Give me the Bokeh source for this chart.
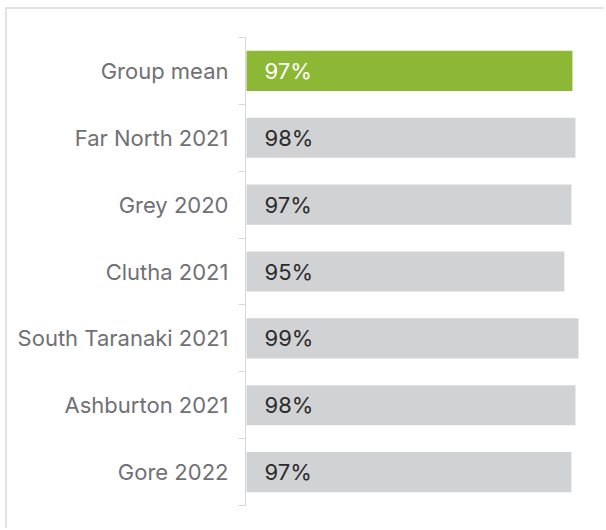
from bokeh.plotting import figure
from bokeh.models import ColumnDataSource, FixedTicker
from bokeh.embed import file_html
from bokeh.resources import INLINE
from bokeh.core.properties import value

categories = ["Group mean", "Far North 2021", "Grey 2020", "Clutha 2021",
              "South Taranaki 2021", "Ashburton 2021", "Gore 2022"]
values = [97.0, 97.9, 96.7, 94.6, 98.8, 97.9, 96.7]
value_labels = ["97%", "98%", "97%", "95%", "99%", "98%", "97%"]

n = len(categories)
ypos = [n - i - 0.5 for i in range(n)]
bar_colors = ["#8db836"] + ["#d1d2d4"] * (n - 1)
text_colors = ["#ffffff"] + ["#2b2b2b"] * (n - 1)

src = ColumnDataSource(dict(y=ypos, v=values, lab=value_labels,
                            bc=bar_colors, tc=text_colors))

W, H = 599, 521
p = figure(width=W, height=H, x_range=(-0.3, 100), y_range=(0, n),
           output_backend="svg", toolbar_location=None,
           min_border_left=238, min_border_right=24,
           min_border_top=28, min_border_bottom=25)
p.styles = {"margin-left": "5px", "margin-top": "7px",
            "border-top": "2px solid #e3e3e3",
            "border-left": "2px solid #e3e3e3"}
p.background_fill_color = "white"
p.border_fill_color = "white"
p.outline_line_color = None
p.xaxis.visible = False
p.xgrid.visible = False
p.ygrid.visible = False

p.hbar(y="y", left=0, right="v", height=0.6, source=src,
       fill_color="bc", line_color=None)
p.text(x=0, y="y", text="lab", source=src, x_offset=18,
       text_baseline="middle", text_align="left",
       text_font=value("Inter"), text_font_size="22px", text_color="tc")

ax = p.yaxis[0]
ax.ticker = FixedTicker(ticks=ypos, minor_ticks=list(range(n + 1)))
ax.major_label_overrides = {y: c for y, c in zip(ypos, categories)}
ax.major_tick_out = 0
ax.major_tick_in = 0
ax.minor_tick_out = 7
ax.minor_tick_in = 0
ax.minor_tick_line_color = "#d9d9d9"
ax.axis_line_color = "#d9d9d9"
ax.major_label_standoff = 10
ax.major_label_text_font = "Inter"
ax.major_label_text_font_size = "22px"
ax.major_label_text_color = "#707075"

open("out.html", "w").write(file_html(p, INLINE))
